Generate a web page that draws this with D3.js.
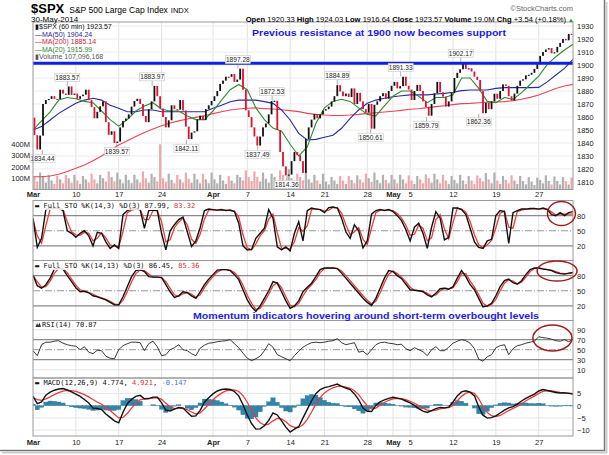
<!DOCTYPE html>
<html><head><meta charset="utf-8">
<script src="https://cdn.jsdelivr.net/npm/d3@7"></script>
<style>
body{margin:0;background:#fff}
svg{display:block}
text{font-family:"Liberation Sans",Arial,sans-serif}
.mono{font-family:"DejaVu Sans Mono",monospace}
.ax text{font-size:7.5px;fill:#222}
.ax path{display:none}
</style>
</head><body><svg id="c" width="609" height="455"></svg>
<script>
// ---------- DATA ----------
const dayTicks  = [0,5,10,15,21,25,30,34,39,42,44,49,54,59];
const dayLabels = ["Mar","10","17","24","Apr","7","14","21","28","May","5","12","19","27"];
const priceTicks = [1810,1820,1830,1840,1850,1860,1870,1880,1890,1900,1910,1920,1930];
const volTicks = [100,200,300,400];
const stoTicks = [20,50,80];
const rsiTicks = [10,30,50,70,90];
const macdTicks = [-10,-5,0,5];
const prevClose = 1859.45;
// three price points per trading day (Mar 3 .. May 30)
const closes = [
 1846,1835,1845.7, 1870,1873,1873.9, 1876,1874,1873.8, 1881,1878,1877.0, 1883.5,1877,1878.0,
 1874,1876,1877.2, 1881,1873,1867.6, 1859,1864,1868.2, 1872,1856,1846.3, 1849,1840,1841.1,
 1852,1857,1858.8, 1862,1868,1872.3, 1874,1870,1860.8, 1856,1866,1872.0, 1883.9,1876,1866.5,
 1860,1852,1857.4, 1869,1866,1865.6, 1873,1865,1852.6, 1843,1848,1849.0, 1858,1861,1857.6,
 1866,1869,1872.3, 1876,1880,1885.5, 1888,1891,1890.9, 1893,1887,1888.8, 1897.2,1881,1865.1,
 1860,1852,1845.0, 1838,1845,1852.0, 1855,1862,1872.2, 1872.5,1850,1833.1, 1822,1815,1815.7,
 1826,1833,1830.6, 1826,1817,1843.0, 1852,1858,1862.3, 1859,1862,1864.9, 1866,1868,1871.9,
 1876,1884.5,1879.6, 1876,1878,1875.4, 1882,1870,1878.6, 1872,1866,1863.4, 1870,1851,1869.4,
 1872,1876,1878.3, 1874,1880,1884.0, 1887,1882,1883.7, 1891,1884,1881.1, 1873,1880,1884.7,
 1880,1872,1867.7, 1861,1870,1878.2, 1887,1879,1875.6, 1868,1872,1878.5, 1890,1894,1896.7,
 1901.5,1897,1897.5, 1895,1891,1888.5, 1880,1863,1870.9, 1866,1872,1877.9, 1874,1880,1885.1,
 1884,1876,1872.8, 1878,1884,1888.0, 1889,1892,1892.5, 1894,1897,1900.5, 1907,1910,1911.9,
 1913,1909,1909.8, 1914,1917,1920.0, 1919,1924,1923.57
];
// volume (millions) for the same points
const volumes = [
 110,70,150, 120,60,130, 80,50,120, 90,55,130, 100,60,130,
 80,50,120, 90,60,140, 90,55,130, 100,70,160, 110,70,150,
 90,55,130, 85,55,130, 90,60,160, 100,60,140, 110,70,400,
 100,65,140, 85,55,130, 90,60,150, 95,60,140, 90,55,140,
 90,55,150, 90,55,130, 80,50,120, 80,55,130, 110,80,170,
 110,75,160, 110,70,150, 95,60,140, 110,80,170, 130,85,180,
 100,65,140, 110,80,160, 90,60,130, 80,50,140, 70,45,110,
 80,50,120, 80,50,120, 85,55,125, 90,60,140, 100,65,150,
 85,55,130, 85,55,130, 90,55,130, 90,55,125, 80,50,120,
 90,55,135, 100,60,140, 90,55,130, 80,50,120, 85,55,130,
 80,50,120, 80,50,125, 100,70,145, 90,55,150, 80,50,120,
 85,55,125, 80,50,120, 75,45,110, 70,40,105, 85,55,125,
 75,45,115, 75,45,110, 75,45,107
];
// moving averages, one value per day boundary (0..63)
const ma20 = [1850,1857,1864,1873,1875,1874,1872,1871,1864.6,1858,1853,1858,1864.6,1868.5,1871,1866,1864.6,1864.6,1860.8,1858,1858,1864.6,1873,1881,1885,1881,1867,1858,1851.5,1849,1839,1830,1837,1855,1867,1872,1873.6,1872,1867,1862,1860.8,1868.5,1876,1880,1880,1876,1871,1875,1875,1877,1890,1890,1882,1872,1871,1875,1873.6,1878.7,1885,1891.5,1900.5,1906.4,1911.5,1915.99];
const ma50 = [1850,1852.6,1857.7,1862.8,1866.7,1870.5,1873,1874.4,1873,1869,1866.7,1864,1864,1865.4,1865.4,1864,1864,1864,1864,1864,1864,1866.7,1869,1871.8,1873,1873,1873,1871.8,1870.5,1865.4,1857.7,1847.4,1842.3,1842.8,1844.4,1846,1851.3,1859,1865.4,1870.5,1873,1874.4,1875.6,1876.4,1877,1877,1877,1877.7,1878.2,1879,1880.3,1880.8,1880.8,1880.8,1882,1882.6,1882.6,1882.6,1882.6,1882.8,1887,1892.3,1897.4,1904.24];
const ma200 = [1814,1814,1814.6,1816,1818,1820.5,1823,1826.4,1830,1834.6,1838.5,1841.8,1845,1848,1850.7,1853.3,1855.4,1857,1858.5,1859.7,1861,1862.6,1864,1865.4,1866.2,1866.7,1867,1866.4,1866.2,1865.6,1864.9,1864.1,1862.8,1862,1861.5,1861.2,1861.2,1861.5,1862,1862.8,1863.3,1863.8,1864.4,1865.1,1865.9,1866.4,1867.2,1868,1868.7,1869.5,1870.3,1870.5,1871,1871.3,1871.5,1871.8,1872.6,1873.6,1875.1,1876.9,1879.5,1882,1883.8,1885.14];
// indicators, two values per day (0, 0.5, ... 63)
const sto1K = [75,17,35,92,95,95,95,90,50,45, 37,45,50,40,20,47,45,28,15,22, 15,82,90,93,93,92,55,90,91,90, 45,12,50,62,72,77,48,19,30,56, 90,93,92,91,92,90,91,88,65,20, 12,13,35,45,55,92,75,18,12,18, 10,45,68,30,90,95,93,92,86,96, 97,95,75,48,35,62,50,16,30,83, 90,92,90,92,88,80,70,52,30,57, 65,45,15,57,88,75,32,37,95,95, 92,82,55,28,17,15,30,33,80,90, 88,25,86,90,93,93,94,94,93,95, 92,82,80,86,80,86,87.99];
const sto1D = [72,40,25,60,93,95,95,93,68,48, 42,41,47,45,30,35,46,36,22,19, 18,48,86,91,93,92,72,72,90,90, 68,28,32,56,67,75,62,33,25,43, 73,91,92,91,91,91,90,89,77,42, 16,12,24,40,50,73,83,46,15,15, 14,28,56,49,60,92,94,92,89,91, 96,96,85,62,42,48,56,33,23,56, 86,91,91,91,90,84,75,61,41,43, 61,55,30,36,72,82,54,34,66,95, 93,87,68,42,22,16,22,31,56,85, 89,57,55,88,91,93,93,94,93,94, 93,87,81,83,83,83,83.32];
const sto2K = [81,60,55,62,75,93,95,93,80,68, 56,48,49,46,40,38,35,32,27,22, 22,38,58,78,90,92,88,78,77,77, 76,62,48,37,40,48,46,40,35,48, 62,73,82,91,92,92,90,82,72,52, 32,18,9,20,35,50,68,65,48,30, 15,20,30,48,57,65,78,92,95,95, 95,94,85,75,65,55,45,35,27,21, 35,55,75,90,88,80,74,63,52,51, 50,48,42,38,45,54,55,53,58,75, 90,78,62,52,35,18,20,25,40,58, 70,73,66,63,70,82,92,95,95,93, 92,90,86,84,83,85,86.45];
const sto2D = [80,68,57,58,69,85,94,94,86,73, 61,52,49,47,43,39,36,33,29,24, 22,31,48,68,84,91,90,83,77,77, 76,68,55,42,39,44,47,43,37,42, 56,68,78,87,92,92,91,86,77,61, 41,25,13,15,28,43,60,66,56,38, 21,18,25,40,53,62,72,86,94,95, 95,94,89,80,70,60,50,40,31,24, 29,46,66,83,89,84,77,68,57,51, 50,49,45,40,42,50,55,54,56,68, 84,84,69,57,42,25,19,23,33,50, 65,72,69,64,67,77,88,94,95,94, 92,91,88,85,84,84,85.36];
const rsi = [48,38,60,65,65,67,68,63,60,58, 57,50,56,45,42,49,48,37,33,32, 50,58,62,65,65,64,48,62,67,56, 38,40,50,54,60,50,48,42,38,53, 59,63,64,66,67,68,70,62,54,43, 33,28,32,37,48,62,55,40,36,32, 28,38,47,55,60,64,65,64,65,67, 68,72,64,60,62,64,45,47,40,50, 60,64,65,63,62,60,61,52,48,54, 50,46,38,50,56,48,48,55,63,67, 70,68,63,52,31,27,36,40,54,58, 60,40,52,58,60,63,65,67,76,74, 73,71,68,67,70,66,70.87];
const macd = [3.8,0.8,1.5,4.3,5.5,6.3,6.8,7.0,6.4,5.6, 4.7,3.8,2.5,1.1,-1.0,-1.1,-1.6,-3.4,-4.8,-6.2, -7.0,-2.7,0.8,2.6,3.8,4.2,2.8,2.9,3.5,3.5, 1.1,-1.8,-2.2,-1.4,-0.7,-1.0,-2.7,-4.3,-4.2,-1.9, 1.4,3.2,4.8,6.0,6.6,6.8,6.6,5.8,4.0,0.4, -3.8,-7.3,-9.6,-9.5,-8.2,-6.0,-3.0,-3.8,-6.2,-8.8, -10.8,-9.6,-8.6,-5.0,-1.5,2.0,4.9,6.6,7.4,7.8, 8.3,8.8,7.9,7.2,6.6,4.8,2.4,-1.0,-2.3,-2.4, 0.1,1.6,2.4,3.0,3.4,3.1,2.7,1.9,1.1,0.1, -1.2,-2.2,-2.8,-2.0,-1.2,-0.7,-0.9,-0.6,1.5,4.0, 5.6,6.1,5.5,4.0,-0.5,-3.9,-5.1,-4.9,-4.2,-3.0, -1.8,-0.9,-0.4,0.6,1.9,3.0,3.9,4.7,6.0,6.6, 6.2,5.8,5.4,5.2,5.2,5.0,4.774];
const macdSignal = [3.2,2.5,2.2,2.8,3.6,4.5,5.3,5.9,6.2,6.1, 5.8,5.2,4.5,3.6,2.5,1.5,0.6,-0.6,-2.0,-3.5, -5.0,-4.8,-3.2,-1.0,1.0,2.4,2.8,2.9,3.1,3.3, 2.6,1.0,-0.4,-1.2,-1.1,-1.0,-1.6,-2.6,-3.4,-3.0, -1.3,0.6,2.4,3.9,5.1,6.0,6.4,6.4,5.8,4.1, 1.4,-1.9,-5.0,-7.0,-7.9,-7.6,-6.2,-5.2,-5.4,-6.6, -8.2,-8.9,-8.9,-7.8,-5.6,-2.6,0.6,3.3,5.2,6.4, 7.3,7.9,8.0,7.6,7.1,6.1,4.5,2.1,-0.1,-1.4, -1.0,0.2,1.3,2.2,2.8,3.0,2.9,2.5,1.8,1.0, 0.0,-1.0,-1.8,-2.1,-1.8,-1.3,-1.0,-0.8,0.1,2.0, 3.8,5.1,5.5,5.0,2.8,-0.3,-2.8,-4.1,-4.5,-4.0, -3.0,-2.0,-1.1,-0.3,0.8,1.9,3.0,3.9,5.0,5.8, 6.1,6.0,5.7,5.4,5.3,5.1,4.921];
const macdHist = [0.6,-1.7,-0.7,1.5,1.9,1.8,1.5,1.1,0.2,-0.5, -0.8,-1.0,-1.2,-1.5,-2.0,-1.8,-1.6,-1.8,-2.0,-2.0, -1.6,2.1,3.0,3.0,2.5,1.8,0.0,0.0,0.4,0.2, -1.5,-2.8,-1.8,-0.2,0.4,0.0,-1.1,-1.7,-0.8,1.1, 2.7,2.6,2.4,2.1,1.5,0.8,0.2,-0.6,-1.8,-3.7, -5.2,-5.4,-4.6,-2.5,-0.3,1.6,3.2,1.4,-0.8,-2.2, -2.6,-0.7,0.3,2.8,4.1,4.6,4.3,3.3,2.2,1.4, 1.0,0.9,-0.1,-0.4,-0.5,-1.3,-2.1,-3.1,-2.2,-1.0, 1.1,1.4,1.1,0.8,0.6,0.1,-0.2,-0.6,-0.7,-0.9, -1.2,-1.2,-1.0,0.1,0.6,0.6,0.1,0.2,1.4,2.0, 1.8,1.0,0.0,-1.0,-3.3,-3.6,-2.3,-0.8,0.3,1.0, 1.2,1.1,0.7,0.9,1.1,1.1,0.9,0.8,1.0,0.8, 0.1,-0.2,-0.3,-0.2,-0.1,-0.1,-0.147];
// labelled highs/lows: day, value, side (+1 above / -1 below)
const swingDays   = [1.1,4.0,9.77,13.9,17.9,23.9,26.2,27.9,29.6,35.5,39.4,42.9,45.9,49.9,52.0];
const swingValues = [1834.44,1883.57,1839.57,1883.97,1842.11,1897.28,1837.49,1872.53,1814.36,1884.89,1850.61,1891.33,1859.79,1902.17,1862.36];
const swingSide   = [-1,1,-1,1,-1,1,-1,1,-1,1,-1,1,-1,1,-1];
const supportLevel = 1901.3;

// ---------- LAYOUT ----------
const L = 33, R = 573;
const svg = d3.select("#c");
const x = d3.scaleLinear().domain([0, 63]).range([L, R]);
const yP = d3.scaleLinear().domain([1804.2, 1933.1]).range([189.5, 22]);
const yV = d3.scaleLinear().domain([0, 1482]).range([189.5, 22]);
const yS1 = d3.scaleLinear().domain([-9, 110]).range([260.5, 200.5]);
const yS2 = d3.scaleLinear().domain([-9, 110]).range([320.5, 260.5]);
const yR = d3.scaleLinear().domain([-6.6, 108.4]).range([378, 320.5]);
const yM = d3.scaleLinear().domain([-12.4, 11.3]).range([436, 378]);
const panels = [[22,189.5,"pMain"],[200.5,260.5,"pS1"],[260.5,320.5,"pS2"],[320.5,378,"pR"],[378,436,"pM"]];

const defs = svg.append("defs");
panels.forEach(([t,b,id]) => defs.append("clipPath").attr("id",id).append("rect").attr("x",L).attr("y",t).attr("width",R-L).attr("height",b-t));

// vertical grid
panels.forEach(([t,b]) => {
  svg.append("g").selectAll("line").data(dayTicks.slice(1)).join("line")
    .attr("x1",d=>x(d)).attr("x2",d=>x(d)).attr("y1",t).attr("y2",b)
    .attr("stroke","#e2e2e2").attr("stroke-width",1);
});
// horizontal grid main
svg.append("g").selectAll("line").data(priceTicks).join("line")
  .attr("x1",L).attr("x2",R).attr("y1",d=>yP(d)).attr("y2",d=>yP(d)).attr("stroke","#ececec");
// reference levels
function levels(scale, solid, dashed, light){
  const g = svg.append("g");
  g.selectAll(".l").data(light).join("line").attr("x1",L).attr("x2",R).attr("y1",d=>scale(d)).attr("y2",d=>scale(d)).attr("stroke","#e6e6e6");
  g.selectAll(".s").data(solid).join("line").attr("x1",L).attr("x2",R).attr("y1",d=>scale(d)).attr("y2",d=>scale(d)).attr("stroke","#8a8a8a").attr("stroke-width",1.2);
  g.selectAll(".d").data(dashed).join("line").attr("x1",L).attr("x2",R).attr("y1",d=>scale(d)).attr("y2",d=>scale(d)).attr("stroke","#999").attr("stroke-dasharray","7,2,1,2");
}
levels(yS1,[20,80],[50],[]);
levels(yS2,[20,80],[50],[]);
levels(yR,[30,70],[50],[10,90]);
levels(yM,[],[],[-10,-5,0,5]);

// ---------- MAIN PANEL ----------
const bars = closes.map((c,i)=>({d:(i+0.5)/3, o: i? closes[i-1] : prevClose, c, v: volumes[i]}));
const gm = svg.append("g").attr("clip-path","url(#pMain)");
gm.selectAll(".vol").data(bars).join("rect")
  .attr("x",d=>x(d.d)-1.1).attr("width",2.2)
  .attr("y",d=>yV(d.v)).attr("height",d=>yV(0)-yV(d.v))
  .attr("fill",d=>d.c>=d.o?"#b0b0b0":"#eeaaaa");
const lineDay = sc => d3.line().x((d,i)=>x(i)).y(d=>sc(d));
gm.append("path").attr("d",lineDay(yP)(ma200)).attr("fill","none").attr("stroke","#e8455a").attr("stroke-width",1.1);
gm.append("path").attr("d",lineDay(yP)(ma50)).attr("fill","none").attr("stroke","#2a2aa0").attr("stroke-width",1.1);
gm.append("path").attr("d",lineDay(yP)(ma20)).attr("fill","none").attr("stroke","#2e8b2e").attr("stroke-width",1.1);
gm.selectAll(".bar").data(bars).join("rect")
  .attr("x",d=>x(d.d)-0.9).attr("width",1.8)
  .attr("y",d=>yP(Math.max(d.o,d.c))).attr("height",d=>Math.max(1.2,Math.abs(yP(d.o)-yP(d.c))))
  .attr("fill",d=>d.c>=d.o?"#111":"#e0102e");
gm.append("line").attr("x1",L).attr("x2",R).attr("y1",yP(supportLevel)).attr("y2",yP(supportLevel))
  .attr("stroke","#1020e0").attr("stroke-width",3);

// swing labels
const sw = swingValues.map((v,i)=>({d:swingDays[i], v, s:swingSide[i]}));
const gl = svg.append("g");
gl.selectAll("line").data(sw).join("line")
  .attr("x1",d=>x(d.d)).attr("x2",d=>x(d.d))
  .attr("y1",d=>yP(d.v)).attr("y2",d=>yP(d.v)-d.s*5).attr("stroke","#777").attr("stroke-width",0.6);
gl.selectAll("rect").data(sw).join("rect")
  .attr("x",d=>x(d.d)-12.5).attr("width",25).attr("height",8)
  .attr("y",d=>d.s>0? yP(d.v)-13 : yP(d.v)+4)
  .attr("fill","#fff").attr("stroke","#c4c4c4").attr("stroke-width",0.6);
gl.selectAll("text").data(sw).join("text")
  .attr("x",d=>x(d.d)).attr("y",d=>d.s>0? yP(d.v)-6.6 : yP(d.v)+10.4)
  .attr("text-anchor","middle").attr("font-size","6.6px").attr("fill","#222")
  .text(d=>d.v.toFixed(2));

// ---------- STO / RSI / MACD ----------
const lineHalf = sc => d3.line().x((d,i)=>x(i/2)).y(d=>sc(d));
function pair(sc, clip, a, b){
  const g = svg.append("g").attr("clip-path",`url(#${clip})`);
  g.append("path").attr("d",lineHalf(sc)(b)).attr("fill","none").attr("stroke","#f03a3a").attr("stroke-width",1.3);
  g.append("path").attr("d",lineHalf(sc)(a)).attr("fill","none").attr("stroke","#111").attr("stroke-width",1.4);
}
pair(yS1,"pS1",sto1K,sto1D);
pair(yS2,"pS2",sto2K,sto2D);
svg.append("g").attr("clip-path","url(#pR)").append("path").attr("d",lineHalf(yR)(rsi))
  .attr("fill","none").attr("stroke","#222").attr("stroke-width",0.9);
const gh = svg.append("g").attr("clip-path","url(#pM)");
gh.selectAll("rect").data(macdHist).join("rect")
  .attr("x",(d,i)=>x(i/2)-2.15).attr("width",4.3)
  .attr("y",d=>yM(Math.max(0,d))).attr("height",d=>Math.abs(yM(d)-yM(0)))
  .attr("fill","#2f86aa").attr("stroke","#236f90").attr("stroke-width",0.3);
pair(yM,"pM",macd,macdSignal);

// panel borders
panels.forEach(([t,b]) => svg.append("rect").attr("x",L).attr("y",t).attr("width",R-L).attr("height",b-t)
  .attr("fill","none").attr("stroke","#9a9a9a").attr("stroke-width",1));

// ---------- AXES ----------
function rAxis(sc, ticks){
  svg.append("g").attr("class","ax").attr("transform",`translate(${R},0)`)
    .call(d3.axisRight(sc).tickValues(ticks).tickFormat(d3.format("d")).tickSize(0).tickPadding(4));
}
rAxis(yP, priceTicks); rAxis(yS1, stoTicks); rAxis(yS2, stoTicks); rAxis(yR, rsiTicks); rAxis(yM, macdTicks);
svg.append("g").attr("class","ax").attr("transform",`translate(${L},0)`)
  .call(d3.axisLeft(yV).tickValues(volTicks).tickFormat(d=>d+"M").tickSize(0).tickPadding(3));
function dAxis(y0){
  const g = svg.append("g").attr("class","ax").attr("transform",`translate(0,${y0})`)
    .call(d3.axisBottom(x).tickValues(dayTicks).tickFormat((d,i)=>dayLabels[i]).tickSize(0).tickPadding(1));
  g.selectAll("text").attr("font-weight",(d,i)=>isNaN(+dayLabels[i])?"bold":"normal").attr("font-size","8px");
}
dAxis(190.5); dAxis(438.5);

// ---------- TEXT ----------
const hdr = svg.append("text").attr("x",31).attr("y",13);
hdr.append("tspan").attr("font-weight","bold").attr("font-size","13px").text("$SPX");
hdr.append("tspan").attr("font-size","8.5px").attr("dx",5).text("S&P 500 Large Cap Index");
hdr.append("tspan").attr("font-size","7.5px").attr("dx",3).text("INDX");
svg.append("text").attr("x",573).attr("y",11).attr("text-anchor","end").attr("font-size","7.5px").attr("fill","#666").text("©StockCharts.com");
svg.append("text").attr("x",31).attr("y",21.5).attr("font-size","8px").text("30-May-2014");
const q = svg.append("text").attr("x",566).attr("y",21.5).attr("text-anchor","end").attr("font-size","7.6px");
[["Open"," 1920.33 "],["High"," 1924.03 "],["Low"," 1916.64 "],["Close"," 1923.57 "],["Volume"," 19.0M "],["Chg"," +3.54 (+0.18%)"]]
  .forEach(([k,v])=>{q.append("tspan").attr("font-weight","bold").text(k); q.append("tspan").text(v);});
svg.append("text").attr("x",568).attr("y",21.5).attr("font-size","6px").attr("fill","#1a9a1a").text("▲");

// legend main
const lg = svg.append("g").attr("class","mono").attr("font-size","7px");
lg.append("text").attr("x",35).attr("y",29).attr("fill","#111").text("▮$SPX (60 min) 1923.57");
lg.append("text").attr("x",35).attr("y",36.5).attr("fill","#2a2aa0").text("—MA(50) 1904.24");
lg.append("text").attr("x",35).attr("y",44).attr("fill","#d8203a").text("—MA(200) 1885.14");
lg.append("text").attr("x",35).attr("y",51.5).attr("fill","#2e8b2e").text("—MA(20) 1915.99");
lg.append("text").attr("x",35).attr("y",59).attr("fill","#555").text("▮Volume 107,096,168");

function plabel(x0, y, parts){
  const g = svg.append("g");
  const t = g.append("text").attr("class","mono").attr("x",x0).attr("y",y).attr("font-size","7px");
  parts.forEach(([s,c])=>t.append("tspan").attr("fill",c).text(s));
  const bb = t.node().getBBox();
  g.insert("rect","text").attr("x",bb.x-1).attr("y",bb.y).attr("width",bb.width+2).attr("height",bb.height)
    .attr("fill","#fff").attr("fill-opacity",0.85);
}
plabel(35,208,[["▬ Full STO %K(14,3) %D(3) 87.99, ","#111"],["83.32","#e03030"]]);
plabel(35,268,[["▬ Full STO %K(14,13) %D(3) 86.45, ","#111"],["85.36","#e03030"]]);
plabel(42,327,[["RSI(14) 70.87","#111"]]);
svg.append("path").attr("d","M35.5,327 L37,323 L38.3,325.5 L39.5,322.5 L41,327 Z").attr("fill","#333");
plabel(35,385,[["▬ MACD(12,26,9) 4.774, ","#111"],["4.921","#e03030"],[", ","#111"],["-0.147","#4a6cf0"]]);

// annotations
svg.append("text").attr("x",379).attr("y",36).attr("text-anchor","middle").attr("font-family","DejaVu Sans")
  .attr("font-weight","bold").attr("font-size","9.5px").attr("fill","#1a1aee")
  .attr("textLength",254).attr("lengthAdjust","spacingAndGlyphs")
  .text("Previous resistance at 1900 now becomes support");
svg.append("text").attr("x",366).attr("y",318.5).attr("text-anchor","middle").attr("font-family","DejaVu Sans")
  .attr("font-weight","bold").attr("font-size","9.5px").attr("fill","#1a1aee")
  .attr("textLength",346).attr("lengthAdjust","spacingAndGlyphs")
  .text("Momentum indicators hovering around short-term overbought levels");

// circled regions (data coordinates)
const rings = [[x,yS1,61.65,84.2,1.63,23.8],[x,yS2,61.14,89.2,2.33,19.8],[x,yR,60.6,73.4,2.28,26]];
rings.forEach(([sx,sy,cd,cv,rd,rv])=>{
  svg.append("ellipse").attr("cx",sx(cd)).attr("cy",sy(cv))
    .attr("rx",sx(cd+rd)-sx(cd)).attr("ry",sy(cv-rv)-sy(cv))
    .attr("fill","none").attr("stroke","#a01c1c").attr("stroke-width",1.5);
});

// outer frame
svg.append("line").attr("x1",604.5).attr("x2",604.5).attr("y1",0).attr("y2",451).attr("stroke","#777").attr("stroke-width",1.5);
svg.append("line").attr("x1",0).attr("x2",605).attr("y1",450.5).attr("y2",450.5).attr("stroke","#777").attr("stroke-width",1.5);
svg.append("line").attr("x1",606.5).attr("x2",606.5).attr("y1",2).attr("y2",453).attr("stroke","#ccc").attr("stroke-width",2);
svg.append("line").attr("x1",2).attr("x2",607).attr("y1",452.5).attr("y2",452.5).attr("stroke","#ccc").attr("stroke-width",2);
</script>
</body></html>
